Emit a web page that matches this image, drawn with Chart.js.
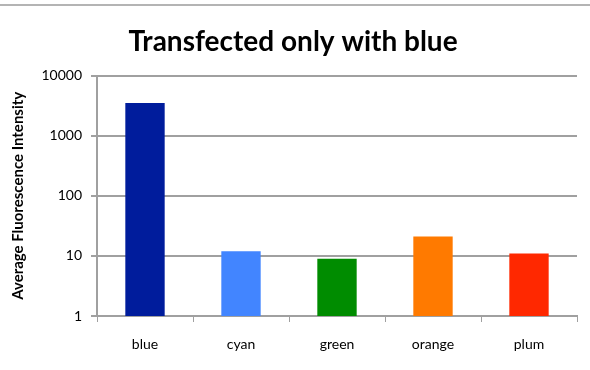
<!DOCTYPE html>
<html>
<head>
<meta charset="utf-8">
<script src="https://cdn.jsdelivr.net/npm/chart.js@4"></script>
<style>
    body { margin: 0; background: #fff; }
    #wrap { width: 590px; height: 370px; }
</style>
</head>
<body>
<div id="wrap"><canvas id="myChart"></canvas></div>
<script>
    const labels = ['blue', 'cyan', 'green', 'orange', 'plum'];
    const intensity = [3500, 12, 9, 21, 11];
    const barColors = ['#001c9c', '#4285ff', '#008c00', '#ff7a00', '#ff2800'];
    const yTicks = [1, 10, 100, 1000, 10000];

    // thin grey rule across the top of the page
    const topRule = {
        id: 'topRule',
        beforeDraw(chart) {
            const ctx = chart.ctx;
            ctx.save();
            ctx.strokeStyle = '#b4b4b4';
            ctx.lineWidth = 2;
            ctx.beginPath();
            ctx.moveTo(0, 5);
            ctx.lineTo(chart.width, 5);
            ctx.stroke();
            ctx.restore();
        }
    };

    let ctx = document.getElementById('myChart').getContext('2d');
    let myChart = new Chart(ctx, {
        type: 'bar',
        data: {
            labels: labels,
            datasets: [{
                data: intensity,
                backgroundColor: barColors,
                barPercentage: 0.41,
                categoryPercentage: 1
            }]
        },
        options: {
            responsive: true,
            maintainAspectRatio: false,
            animation: false,
            layout: { padding: { top: 6, right: 13, left: 9, bottom: 0 } },
            plugins: {
                legend: { display: false },
                tooltip: { enabled: false },
                title: {
                    display: true,
                    text: 'Transfected only with blue',
                    color: '#000',
                    font: { family: 'Lato', size: 28, weight: 'bold' },
                    padding: { top: 19, bottom: 17 }
                }
            },
            scales: {
                x: {
                    grid: { offset: true, drawOnChartArea: false, tickLength: 6, color: '#a0a0a0' },
                    border: { color: '#a0a0a0', width: 2 },
                    ticks: { color: '#000', font: { family: 'Lato', size: 14 }, padding: 14 },
                    afterFit: scale => { scale.height = 54; }
                },
                y: {
                    type: 'logarithmic',
                    min: 1,
                    max: 10000,
                    afterBuildTicks: scale => {
                        scale.ticks = yTicks.map(v => ({ value: v }));
                    },
                    grid: { color: '#a0a0a0', lineWidth: 2, tickLength: 6 },
                    border: { color: '#a0a0a0', width: 2 },
                    ticks: {
                        color: '#000',
                        font: { family: 'Lato', size: 14 },
                        padding: 9,
                        callback: v => String(v)
                    },
                    title: {
                        display: true,
                        text: 'Average Fluorescence Intensity',
                        color: '#000',
                        font: { family: 'Lato', size: 15, weight: 'bold' },
                        padding: { top: 0, bottom: 0 }
                    },
                    afterFit: scale => { scale.width = 88; }
                }
            }
        },
        plugins: [topRule]
    });
</script>
</body>
</html>
